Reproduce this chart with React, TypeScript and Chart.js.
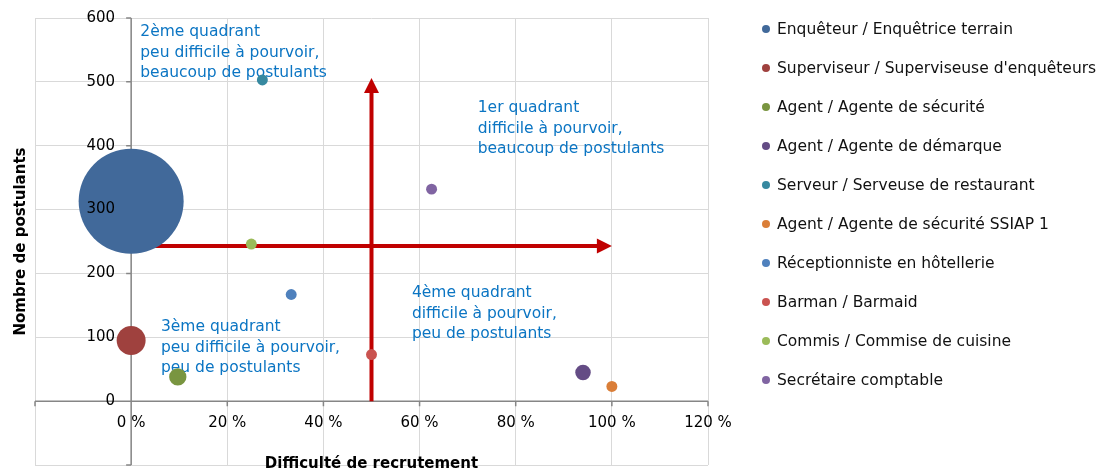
import React, { useEffect, useRef } from 'react';
import { Chart, registerables } from 'chart.js';

Chart.register(...registerables);

// ---- data ----
const jobs = [
  'Enquêteur / Enquêtrice terrain',
  "Superviseur / Superviseuse d'enquêteurs",
  'Agent / Agente de sécurité',
  'Agent / Agente de démarque',
  'Serveur / Serveuse de restaurant',
  'Agent / Agente de sécurité SSIAP 1',
  'Réceptionniste en hôtellerie',
  'Barman / Barmaid',
  'Commis / Commise de cuisine',
  'Secrétaire comptable',
];
const difficulty = [0, 0, 9.7, 94, 27.3, 100, 33.3, 50, 25, 62.5]; // %
const applicants = [313, 95, 38, 45, 503, 23, 167, 73, 246, 332];
const bubbleSize = [92, 7, 2.5, 2, 1, 1, 1, 1, 1, 1];
const colors = [
  '#41699A', '#9F413E', '#799540', '#644C85', '#3789A0',
  '#DA7E38', '#4F81BD', '#CA5350', '#9BBB59', '#8064A2',
];

const xTitle = 'Difficulté de recrutement';
const yTitle = 'Nombre de postulants';

const quadrantLines = [
  ['2ème quadrant', 'peu difficile à pourvoir,', 'beaucoup de postulants'],
  ['1er quadrant', 'difficile à pourvoir,', 'beaucoup de postulants'],
  ['3ème quadrant', 'peu difficile à pourvoir,', 'peu de postulants'],
  ['4ème quadrant', 'difficile à pourvoir,', 'peu de postulants'],
];
const quadrantX = [1.9, 72.1, 6.2, 58.4];
const quadrantY = [578, 459, 116, 169];

const arrowFromX = [50, 0];
const arrowFromY = [0, 243];
const arrowToX = [50, 100];
const arrowToY = [506, 243];

const FONT = '"DejaVu Sans", sans-serif';
const MAX_R = 52.5;
const maxSize = Math.max(...bubbleSize);
const AXIS_COLOR = '#868686';

const overlay = {
  id: 'overlay',
  beforeDatasetsDraw(chart: any) {
    const { ctx, scales, chartArea } = chart;
    const xs = scales.x;
    const ys = scales.y;
    const x0 = xs.getPixelForValue(0);
    const y0 = ys.getPixelForValue(0);
    ctx.save();
    // axis lines and tick marks
    ctx.strokeStyle = AXIS_COLOR;
    ctx.lineWidth = 1.5;
    ctx.beginPath();
    ctx.moveTo(x0, chartArea.top);
    ctx.lineTo(x0, chartArea.bottom);
    ctx.moveTo(chartArea.left, y0);
    ctx.lineTo(chartArea.right, y0);
    ys.ticks.forEach((t: any) => {
      const py = ys.getPixelForValue(t.value);
      ctx.moveTo(x0 - 5, py);
      ctx.lineTo(x0, py);
    });
    xs.ticks.forEach((t: any) => {
      const px = xs.getPixelForValue(t.value);
      ctx.moveTo(px, y0);
      ctx.lineTo(px, y0 + 5);
    });
    ctx.stroke();
    // arrows
    ctx.strokeStyle = '#C00000';
    ctx.fillStyle = '#C00000';
    ctx.lineWidth = 4;
    for (let i = 0; i < arrowFromX.length; i++) {
      const x1 = xs.getPixelForValue(arrowFromX[i]);
      const y1 = ys.getPixelForValue(arrowFromY[i]);
      const x2 = xs.getPixelForValue(arrowToX[i]);
      const y2 = ys.getPixelForValue(arrowToY[i]);
      const a = Math.atan2(y2 - y1, x2 - x1);
      const hl = 15;
      const hw = 7.5;
      const bx = x2 - hl * Math.cos(a);
      const by = y2 - hl * Math.sin(a);
      ctx.beginPath();
      ctx.moveTo(x1, y1);
      ctx.lineTo(bx + Math.cos(a), by + Math.sin(a));
      ctx.stroke();
      ctx.beginPath();
      ctx.moveTo(x2, y2);
      ctx.lineTo(bx + hw * Math.sin(a), by - hw * Math.cos(a));
      ctx.lineTo(bx - hw * Math.sin(a), by + hw * Math.cos(a));
      ctx.closePath();
      ctx.fill();
    }
    // quadrant texts
    ctx.fillStyle = '#0B75C3';
    ctx.font = `15.5px ${FONT}`;
    ctx.textBaseline = 'middle';
    ctx.textAlign = 'left';
    quadrantLines.forEach((lines, q) => {
      const px = xs.getPixelForValue(quadrantX[q]);
      const py = ys.getPixelForValue(quadrantY[q]);
      lines.forEach((t, k) => ctx.fillText(t, px, py + k * 20.6));
    });
    ctx.restore();
  },
  afterDraw(chart: any) {
    const { ctx, chartArea, scales } = chart;
    const xs = scales.x;
    const ys = scales.y;
    const x0 = xs.getPixelForValue(0);
    const y0 = ys.getPixelForValue(0);
    ctx.save();
    // tick labels
    ctx.fillStyle = '#000';
    ctx.font = `15px ${FONT}`;
    ctx.textBaseline = 'middle';
    ctx.textAlign = 'right';
    ys.ticks.forEach((t: any) => {
      if (t.label) ctx.fillText(t.label, x0 - 16, ys.getPixelForValue(t.value));
    });
    ctx.textAlign = 'center';
    xs.ticks.forEach((t: any) => {
      if (t.label) ctx.fillText(t.label, xs.getPixelForValue(t.value), y0 + 22);
    });
    // axis titles
    ctx.font = `bold 15px ${FONT}`;
    ctx.fillText(xTitle, (chartArea.left + chartArea.right) / 2, chartArea.bottom - 1);
    ctx.save();
    ctx.translate(21, (chartArea.top + chartArea.bottom) / 2);
    ctx.rotate(-Math.PI / 2);
    ctx.fillText(yTitle, 0, 0);
    ctx.restore();
    // legend
    const lx = chartArea.right + 58;
    ctx.font = `15.5px ${FONT}`;
    ctx.textAlign = 'left';
    chart.data.datasets.forEach((ds: any, i: number) => {
      const cy = 29 + i * 39;
      ctx.fillStyle = ds.backgroundColor;
      ctx.beginPath();
      ctx.arc(lx, cy, 4, 0, Math.PI * 2);
      ctx.fill();
      ctx.fillStyle = '#111';
      ctx.fillText(ds.label, lx + 11, cy + 1);
    });
    ctx.restore();
  },
};

export default function App() {
  const ref = useRef<HTMLCanvasElement>(null);
  useEffect(() => {
    if (!ref.current) return;
    const chart = new Chart(ref.current, {
      type: 'bubble',
      data: {
        datasets: jobs.map((label, i) => ({
          label,
          data: [{ x: difficulty[i], y: applicants[i], r: MAX_R * Math.sqrt(bubbleSize[i] / maxSize) }],
          backgroundColor: colors[i],
          borderWidth: 0,
          hoverRadius: 0,
          clip: false as any,
        })),
      },
      options: {
        responsive: false,
        animation: false,
        events: [],
        layout: { autoPadding: false, padding: { left: 35, top: 18, right: 1101 - 708, bottom: 5 } },
        plugins: { legend: { display: false }, tooltip: { enabled: false } },
        scales: {
          x: {
            type: 'linear',
            min: -20,
            max: 120,
            ticks: {
              stepSize: 20,
              display: false,
              callback: (v: any) => (v < 0 ? '' : `${v} %`),
            },
            grid: { color: '#D9D9D9', drawTicks: false, lineWidth: 1 },
            border: { display: false },
          },
          y: {
            type: 'linear',
            min: -100,
            max: 600,
            ticks: {
              stepSize: 100,
              display: false,
              callback: (v: any) => (v < 0 ? '' : `${v}`),
            },
            grid: { color: '#D9D9D9', drawTicks: false, lineWidth: 1 },
            border: { display: false },
          },
        },
      },
      plugins: [overlay],
    });
    return () => chart.destroy();
  }, []);
  return (
    <div style={{ position: 'fixed', left: 0, top: 0, width: 1101, height: 470, background: '#fff' }}>
      <canvas ref={ref} width={1101} height={470} style={{ width: 1101, height: 470 }} />
    </div>
  );
}
